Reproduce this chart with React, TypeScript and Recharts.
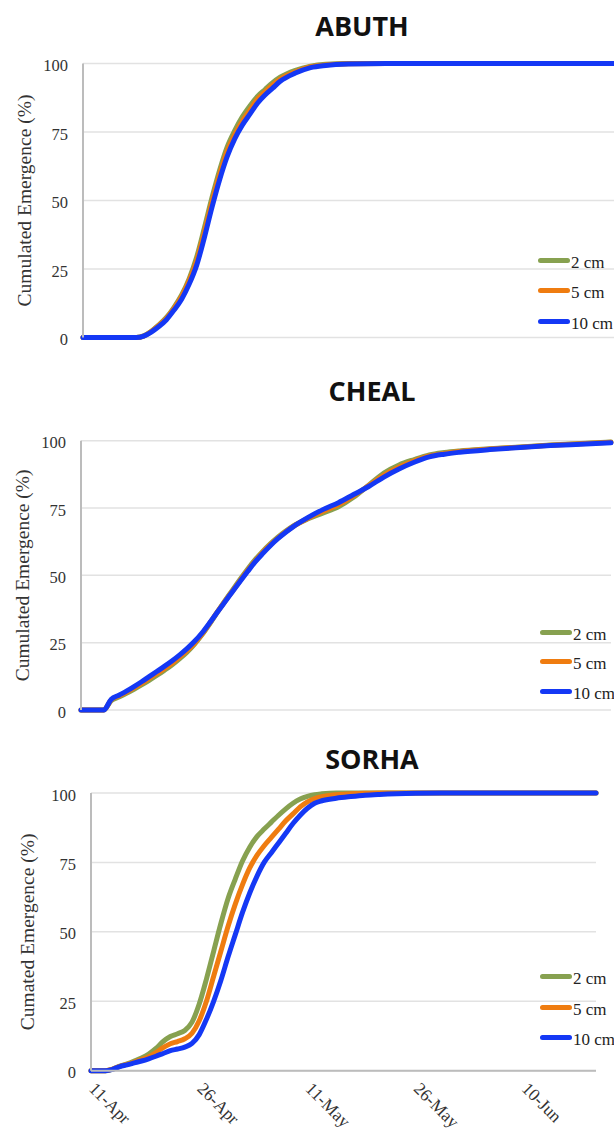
import { CartesianGrid, Legend, Line, LineChart, XAxis, YAxis } from "recharts";

// days after 11-Apr
const abuthDays = [0, 7, 8, 9, 10, 11, 12, 13, 14, 15, 16, 17, 18, 19, 20, 21, 22, 23, 24, 25, 26, 28, 30, 32, 35, 40, 50, 60, 70];
const abuth2cm = [0, 0, 0.6, 2.3, 4.6, 7.3, 11, 15.5, 21.5, 29.5, 40, 51, 61, 69.5, 75.5, 80.5, 84.5, 88, 90.5, 93, 95, 97.5, 99, 99.7, 100, 100, 100, 100, 100];
const abuth5cm = [0, 0, 0.5, 2.2, 4.4, 7, 10.6, 15, 20.8, 28.2, 38.5, 49.5, 59.5, 68, 74, 79, 83, 87, 89.7, 92.2, 94.3, 97, 98.8, 99.5, 99.9, 100, 100, 100, 100];
const abuth10cm = [0, 0, 0.5, 2, 4, 6.5, 10, 14, 19.5, 26.5, 36.5, 47.5, 57.5, 66, 72.5, 77.5, 81.5, 85.5, 88.5, 91, 93.5, 96.5, 98.5, 99.3, 99.8, 100, 100, 100, 100];

const chealDays = [0, 3, 4, 5, 6, 7, 8, 9, 10, 11, 12, 13, 14, 15, 16, 17, 18, 19, 20, 21, 22, 23, 24, 25, 26, 27, 28, 30, 32, 34, 36, 38, 40, 42, 44, 46, 48, 50, 54, 58, 62, 66, 70];
const cheal2cm = [0, 0, 3.5, 4.8, 6.2, 7.7, 9.3, 11, 12.8, 14.7, 16.7, 19, 21.5, 24.5, 28, 32, 36.3, 40.5, 44.5, 48.5, 52.3, 55.8, 58.9, 61.7, 64.2, 66.4, 68.3, 71, 73.2, 75.5, 79, 83.5, 88, 91, 93, 94.7, 95.6, 96.2, 97, 97.7, 98.4, 99, 99.5];
const cheal5cm = [0, 0, 3.8, 5.2, 6.6, 8.2, 9.9, 11.7, 13.5, 15.3, 17.3, 19.6, 22, 24.8, 28.2, 32.2, 36.4, 40.3, 44.1, 48, 51.8, 55.3, 58.5, 61.3, 63.8, 66.1, 68.1, 71.2, 73.8, 76.2, 79.5, 83.3, 87.2, 90.2, 92.5, 94.3, 95.3, 96, 96.9, 97.6, 98.3, 98.9, 99.4];
const cheal10cm = [0, 0, 4, 5.5, 7, 8.7, 10.5, 12.4, 14.3, 16.2, 18.2, 20.4, 22.8, 25.5, 28.7, 32.4, 36.3, 40.1, 43.9, 47.7, 51.4, 55, 58.1, 61, 63.6, 65.9, 68, 71.5, 74.5, 77, 80, 83, 86.5, 89.5, 92, 94, 95, 95.7, 96.7, 97.5, 98.2, 98.7, 99.2];

const sorhaDays = [0, 2, 3, 4, 5, 6, 7, 8, 9, 10, 11, 12, 13, 14, 15, 16, 17, 18, 19, 20, 21, 22, 23, 24, 25, 26, 27, 28, 29, 30, 31, 32, 34, 36, 38, 40, 45, 50, 60, 70];
const sorha2cm = [0, 0, 0.6, 1.7, 2.5, 3.5, 4.6, 6, 8, 10.5, 12.3, 13.3, 14.5, 17.5, 24, 33, 43, 53, 62, 69, 75.5, 80.5, 84.3, 87, 89.5, 92, 94.3, 96.3, 97.8, 98.8, 99.4, 99.7, 100, 100, 100, 100, 100, 100, 100, 100];
const sorha5cm = [0, 0, 0.6, 1.6, 2.3, 3.1, 4, 5, 6.5, 8.3, 9.7, 10.5, 11.5, 13.5, 18, 25, 34, 43, 52, 60, 67, 73, 77.5, 81, 84, 87, 90, 92.5, 95, 96.8, 98, 98.7, 99.4, 99.7, 99.9, 100, 100, 100, 100, 100];
const sorha10cm = [0, 0, 0.5, 1.5, 2.1, 2.8, 3.5, 4.3, 5.2, 6.2, 7.2, 7.8, 8.5, 9.8, 13, 18.5, 25, 32.5, 41, 49, 57, 64, 70, 75, 78.5, 82, 85.5, 89, 92, 94.5, 96.3, 97.2, 98.1, 98.7, 99.2, 99.5, 99.9, 100, 100, 100];

const dateTicks = [0, 15, 30, 45, 60];
const dateLabels = ["11-Apr", "26-Apr", "11-May", "26-May", "10-Jun"];
const yTicks = [0, 25, 50, 75, 100];

const depths = ["2 cm", "5 cm", "10 cm"];
const depthColors = ["#87a150", "#ef7c10", "#1438f5"];

const SERIF = "Liberation Serif, Times New Roman, serif";

function toRows(days: number[], a: number[], b: number[], c: number[]) {
  return days.map((day, i) => ({ day, d2: a[i], d5: b[i], d10: c[i] }));
}

function DepthLegend({ rowHeight }: { rowHeight: number }) {
  return (
    <div>
      {depths.map((name, i) => (
        <div key={name} style={{ display: "flex", alignItems: "center", height: rowHeight }}>
          <span style={{ width: 32, height: 5, borderRadius: 3, background: depthColors[i] }} />
          <span
            style={{
              marginLeft: 1,
              fontFamily: SERIF,
              fontSize: 17,
              fontWeight: 400,
              color: "#222",
              lineHeight: 1,
              position: "relative",
              top: 2,
            }}
          >
            {name}
          </span>
        </div>
      ))}
    </div>
  );
}

function ValueTick({ x, y, payload }: { x?: number; y?: number; payload?: { value: number } }) {
  return (
    <text x={x} y={(y ?? 0) + 2} textAnchor="end" dominantBaseline="central" style={{ fontFamily: SERIF }} fontSize={16.5} fill="#333">
      {payload?.value}
    </text>
  );
}

function DateTick({ x, y, payload }: { x?: number; y?: number; payload?: { value: number } }) {
  const idx = dateTicks.indexOf(payload?.value ?? -1);
  const ax = (x ?? 0) - 3;
  const ay = (y ?? 0) + 19;
  return (
    <text x={ax} y={ay} transform={`rotate(45 ${ax} ${ay})`} textAnchor="start" style={{ fontFamily: SERIF }} fontSize={17.5} fill="#333">
      {dateLabels[idx]}
    </text>
  );
}

type PanelProps = {
  title: string;
  titleX: number;
  titleY: number;
  top: number;
  height: number;
  rows: ReturnType<typeof toRows>;
  axisWidth: number;
  margin: { top: number; right: number; bottom: number; left: number };
  yLabel: string;
  yLabelX: number;
  legendLeft: number;
  legendTop: number;
  legendRow: number;
  showDates?: boolean;
};

function Panel(p: PanelProps) {
  return (
    <>
      <div
        style={{
          position: "absolute",
          left: p.titleX - 100,
          top: p.titleY - 18,
          width: 200,
          textAlign: "center",
          fontFamily: "Open Sans, sans-serif",
          fontWeight: 700,
          fontSize: 27,
          lineHeight: "36px",
          color: "#111",
        }}
      >
        {p.title}
      </div>
      <div style={{ position: "absolute", left: 0, top: p.top, width: 614, height: p.height, overflow: "hidden" }}>
        <LineChart width={614} height={p.height} data={p.rows} margin={p.margin}>
          <CartesianGrid horizontal vertical={false} stroke="#e2e2e2" strokeWidth={1.5} />
          <XAxis
            dataKey="day"
            type="number"
            domain={[0, 70]}
            ticks={dateTicks}
            interval={0}
            axisLine={{ stroke: "#bcbcbc", strokeWidth: 2 }}
            tickLine={false}
            tickSize={0}
            tickMargin={0}
            height={p.showDates ? 60 : 0}
            tick={p.showDates ? <DateTick /> : false}
          />
          <YAxis
            type="number"
            domain={[0, 100]}
            ticks={yTicks}
            interval={0}
            width={p.axisWidth}
            axisLine={{ stroke: "#bcbcbc", strokeWidth: 2 }}
            tickLine={false}
            tickSize={0}
            tickMargin={15}
            tick={<ValueTick />}
            label={{
              content: ({ viewBox }: { viewBox?: { y: number; height: number } }) => {
                const cy = (viewBox?.y ?? 0) + (viewBox?.height ?? 0) / 2;
                return (
                  <text
                    x={p.yLabelX}
                    y={cy}
                    transform={`rotate(-90 ${p.yLabelX} ${cy})`}
                    textAnchor="middle"
                    dominantBaseline="central"
                    style={{ fontFamily: SERIF }}
                    fontSize={19.5}
                    fill="#333"
                  >
                    {p.yLabel}
                  </text>
                );
              },
            }}
          />
          <Legend
            layout="vertical"
            align="center"
            verticalAlign="middle"
            wrapperStyle={{ left: p.legendLeft, top: p.legendTop, width: 90 }}
            content={() => <DepthLegend rowHeight={p.legendRow} />}
          />
          {["d2", "d5", "d10"].map((key, i) => (
            <Line
              key={key}
              dataKey={key}
              name={depths[i]}
              type="monotone"
              stroke={depthColors[i]}
              strokeWidth={5}
              strokeLinecap="round"
              strokeLinejoin="round"
              dot={false}
              isAnimationActive={false}
            />
          ))}
        </LineChart>
      </div>
    </>
  );
}

export default function App() {
  return (
    <div style={{ position: "absolute", left: 0, top: 0, width: 614, height: 1131, overflow: "hidden", background: "#fff" }}>
      <Panel
        title="ABUTH"
        titleX={362}
        titleY={26}
        top={0}
        height={348}
        rows={toRows(abuthDays, abuth2cm, abuth5cm, abuth10cm)}
        axisWidth={83}
        margin={{ top: 63.5, right: 0, bottom: 10.5, left: 0 }}
        yLabel="Cumulated Emergence (%)"
        yLabelX={24}
        legendLeft={538}
        legendTop={245.6}
        legendRow={30.2}
      />
      <Panel
        title="CHEAL"
        titleX={372}
        titleY={391}
        top={380}
        height={341}
        rows={toRows(chealDays, cheal2cm, cheal5cm, cheal10cm)}
        axisWidth={81}
        margin={{ top: 60.7, right: 3, bottom: 11, left: 0 }}
        yLabel="Cumulated Emergence (%)"
        yLabelX={23}
        legendLeft={540}
        legendTop={237.6}
        legendRow={29.4}
      />
      <Panel
        title="SORHA"
        titleX={372}
        titleY={759}
        top={740}
        height={391}
        rows={toRows(sorhaDays, sorha2cm, sorha5cm, sorha10cm)}
        axisWidth={91}
        margin={{ top: 53, right: 18, bottom: 0.3, left: 0 }}
        yLabel="Cumated Emergence (%)"
        yLabelX={28}
        legendLeft={540}
        legendTop={221.8}
        legendRow={30.3}
        showDates
      />
    </div>
  );
}
